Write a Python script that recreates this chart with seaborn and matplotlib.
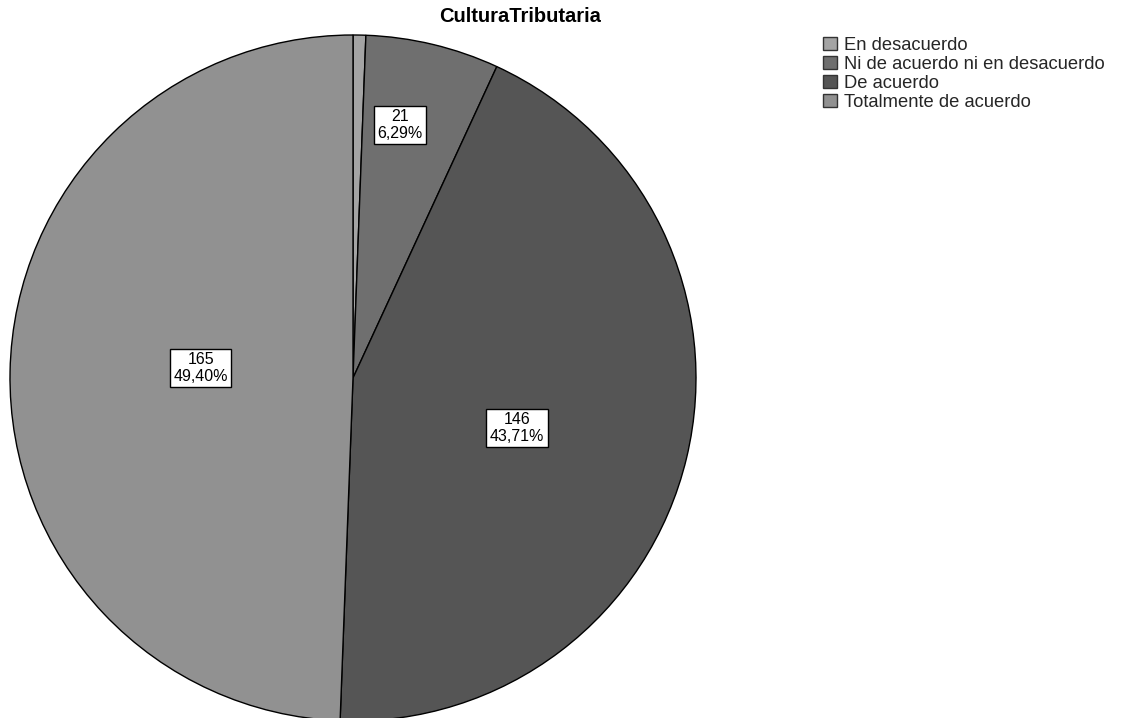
import numpy as np
import matplotlib
matplotlib.use("Agg")
import matplotlib.pyplot as plt
from matplotlib.patches import Patch
import seaborn as sns

# Survey responses for "CulturaTributaria"
categories = ["En desacuerdo", "Ni de acuerdo ni en desacuerdo", "De acuerdo", "Totalmente de acuerdo"]
counts = [2, 21, 146, 165]
labeled = [False, True, True, True]
colors = ["#a4a4a4", "#6f6f6f", "#555555", "#919191"]

# label placement inside each wedge: (radius fraction, angular shift in degrees)
label_radius = [0.75, 0.75, 0.50, 0.445]
label_shift = [0.0, 3.0, -3.5, -2.7]

sns.set_theme(style="white")
plt.rcParams["font.family"] = ["Liberation Sans", "DejaVu Sans"]

fig = plt.figure(figsize=(11.26, 7.18), dpi=100)
fig.patch.set_facecolor("white")
ax = fig.add_axes([10 / 1126, -3 / 718, 686 / 1126, 686 / 718])

total = sum(counts)
wedges, _ = ax.pie(
    counts,
    colors=colors,
    startangle=90,
    counterclock=False,
    radius=1.0,
    wedgeprops=dict(edgecolor="black", linewidth=1.0),
)
ax.set_xlim(-1, 1)
ax.set_ylim(-1, 1)
ax.set_aspect("equal")
ax.axis("off")

for w, n, show, r, s in zip(wedges, counts, labeled, label_radius, label_shift):
    if not show:
        continue
    mid = np.deg2rad((w.theta1 + w.theta2) / 2 + s)
    pct = f"{100 * n / total:.2f}".replace(".", ",")
    ax.text(
        r * np.cos(mid), r * np.sin(mid), f"{n}\n{pct}%",
        ha="center", va="center", multialignment="center",
        fontsize=11.5, color="black", linespacing=1.1,
        bbox=dict(boxstyle="square,pad=0.22", facecolor="white", edgecolor="black", linewidth=1.0),
    )

fig.text(520 / 1126, 1 - 16 / 718, "CulturaTributaria", ha="center", va="center",
         fontsize=14.5, fontweight="bold", color="black")

handles = [Patch(facecolor=c, edgecolor="#333333", linewidth=1.0) for c in colors]
fig.legend(
    handles, categories,
    loc="upper left", bbox_to_anchor=(823 / 1126, 1 - 37 / 718),
    frameon=False, fontsize=13.2, handlelength=0.75, handleheight=0.75,
    handletextpad=0.4, labelspacing=0.1, borderpad=0.0, borderaxespad=0.0,
)

fig.savefig("out.png", dpi=100, facecolor="white")
